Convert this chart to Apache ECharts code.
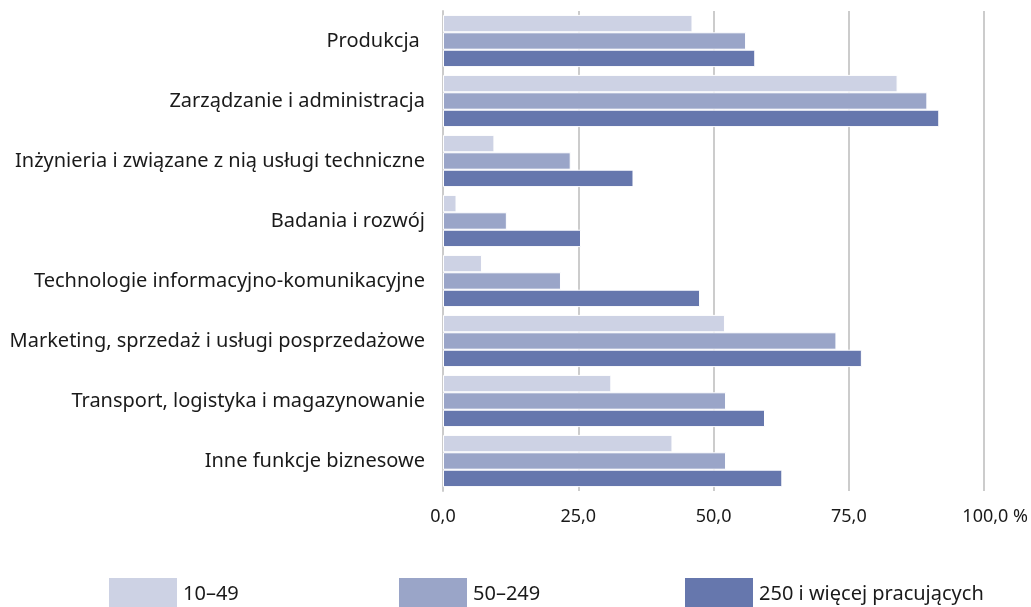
<!DOCTYPE html>
<html>
<head>
<meta charset="utf-8">
<script src="https://cdn.jsdelivr.net/npm/echarts@6/dist/echarts.min.js"></script>
<style>
  html, body { margin: 0; padding: 0; background: #fff; }
  #chart { width: 1031px; height: 607px; }
</style>
</head>
<body>
<div id="chart"></div>
<script>
// kategorie (od góry)
const categories = [
  'Produkcja ',
  'Zarządzanie i administracja',
  'Inżynieria i związane z nią usługi techniczne',
  'Badania i rozwój',
  'Technologie informacyjno-komunikacyjne',
  'Marketing, sprzedaż i usługi posprzedażowe',
  'Transport, logistyka i magazynowanie',
  'Inne funkcje biznesowe'
]

const seriesNames = ['10–49', '50–249', '250 i więcej pracujących']
const small = [46.1, 84.0, 9.5, 2.5, 7.2, 52.1, 31.1, 42.4]
const medium = [56.0, 89.5, 23.6, 11.8, 21.8, 72.7, 52.3, 52.3]
const large = [57.7, 91.7, 35.2, 25.5, 47.5, 77.4, 59.5, 62.7]

const xTicks = ['0,0', '25,0', '50,0', '75,0', '100,0 %']
const colors = ['#cdd2e4', '#9aa5c8', '#6677ad']

const font = '"Noto Sans", sans-serif'
const chart = echarts.init(document.getElementById('chart'))

const legendLeft = [107, 397, 683]

const option = {
  animation: false,
  textStyle: { fontFamily: font },
  grid: { left: 443, right: 46, top: 11, bottom: 116 },
  legend: seriesNames.map((n, i) => ({
    data: [n],
    left: legendLeft[i],
    top: 576,
    padding: 0,
    itemWidth: 70,
    itemHeight: 34,
    icon: 'rect',
    textStyle: { fontSize: 20, color: '#1a1a1a', fontFamily: font }
  })),
  xAxis: {
    type: 'value',
    min: 0,
    max: 100,
    interval: 25,
    axisLine: { show: false },
    axisTick: { show: false },
    splitLine: { lineStyle: { color: '#cccccc', width: 2 } },
    axisLabel: {
      fontSize: 18,
      color: '#1a1a1a',
      margin: 17,
      formatter: (v) => v === 100 ? '{r|' + xTicks[4] + '}' : xTicks[v / 25],
      rich: { r: { fontSize: 18, color: '#1a1a1a', padding: [0, 0, 0, 22] } }
    }
  },
  yAxis: {
    type: 'category',
    inverse: true,
    data: categories,
    axisLine: { show: true, lineStyle: { color: '#cccccc', width: 2 } },
    axisTick: { show: false },
    axisLabel: { fontSize: 20, color: '#1a1a1a', margin: 18 }
  },
  series: [small, medium, large].map((d, i) => ({
    name: seriesNames[i],
    type: 'bar',
    data: d,
    barGap: '0%',
    barCategoryGap: '13%',
    itemStyle: { color: colors[i], borderColor: '#ffffff', borderWidth: 1 }
  }))
}

chart.setOption(option)
</script>
</body>
</html>
